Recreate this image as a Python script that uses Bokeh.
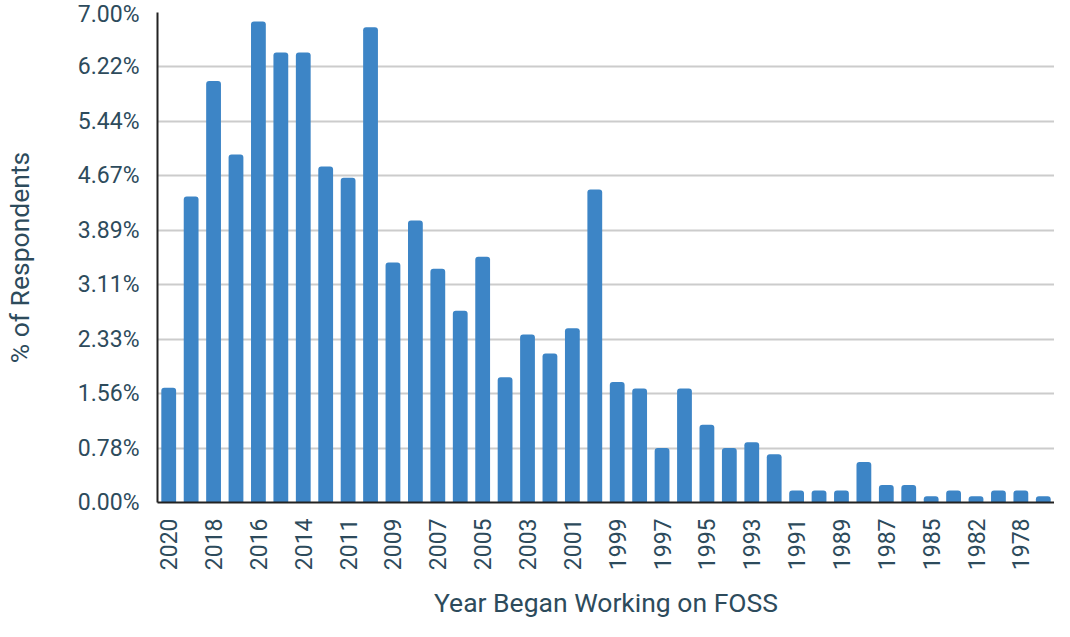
from bokeh.plotting import figure
from bokeh.models import FixedTicker, Range1d, ColumnDataSource
from bokeh.embed import file_html
from bokeh.resources import INLINE

years = ["2020", "2019", "2018", "2017", "2016", "2015", "2014", "2012", "2011", "2010",
         "2009", "2008", "2007", "2006", "2005", "2004", "2003", "2002", "2001", "2000",
         "1999", "1998", "1997", "1996", "1995", "1994", "1993", "1992", "1991", "1990",
         "1989", "1988", "1987", "1986", "1985", "1983", "1982", "1980", "1978", "1975"]
percent = [1.64, 4.37, 6.02, 4.97, 6.87, 6.43, 6.43, 4.80, 4.64, 6.79,
           3.43, 4.03, 3.34, 2.74, 3.51, 1.79, 2.40, 2.13, 2.49, 4.47,
           1.72, 1.63, 0.78, 1.63, 1.11, 0.78, 0.86, 0.69, 0.17, 0.17,
           0.17, 0.58, 0.25, 0.25, 0.09, 0.17, 0.09, 0.17, 0.17, 0.09]
ytick_labels = ["0.00%", "0.78%", "1.56%", "2.33%", "3.11%", "3.89%", "4.67%", "5.44%", "6.22%", "7.00%"]

TEXT = "#2d4b5c"
FONT = "Roboto"

idx = list(range(len(years)))
src = ColumnDataSource(dict(x=idx, top=percent))

p = figure(width=1054, height=621, output_backend="svg", toolbar_location=None,
           x_range=Range1d(-0.5, len(years) - 0.5), y_range=Range1d(0, 7.0),
           min_border_left=142, min_border_right=0, min_border_top=12, min_border_bottom=10)
p.outline_line_color = None

p.vbar(x="x", top="top", width=0.66, source=src, fill_color="#3d85c6",
       line_color=None, border_radius=(3, 3, 0, 0))

yticks = [i * 7.0 / 9 for i in range(10)]
p.yaxis.ticker = FixedTicker(ticks=yticks)
p.yaxis.major_label_overrides = {t: lab for t, lab in zip(yticks, ytick_labels)}
xt = idx[::2]
p.xaxis.ticker = FixedTicker(ticks=xt)
p.xaxis.major_label_overrides = {i: years[i] for i in xt}
p.xaxis.major_label_orientation = 1.5708
p.xgrid.grid_line_color = None
p.ygrid.grid_line_color = "#cccccc"
p.ygrid.grid_line_width = 2

for ax in (p.xaxis, p.yaxis):
    ax.axis_line_color = "#222222"
    ax.axis_line_width = 2
    ax.major_tick_line_color = None
    ax.minor_tick_line_color = None
    ax.major_label_text_font = FONT
    ax.major_label_text_color = TEXT
    ax.major_label_text_font_size = "23px"
    ax.axis_label_text_font = FONT
    ax.axis_label_text_color = TEXT
    ax.axis_label_text_font_size = "26.5px"
    ax.axis_label_text_font_style = "normal"

p.xaxis.axis_label = "Year Began Working on FOSS"
p.yaxis.axis_label = "% of Respondents"
p.yaxis.major_label_standoff = 12
p.xaxis.major_label_standoff = 10
p.yaxis.axis_label_standoff = 40
p.xaxis.axis_label_standoff = 14

open("out.html", "w").write(file_html(p, INLINE))
